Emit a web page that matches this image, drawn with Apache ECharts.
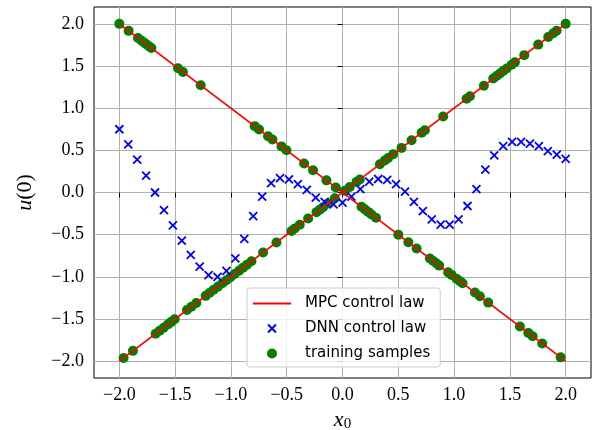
<!DOCTYPE html>
<html>
<head>
<meta charset="utf-8">
<script src="https://cdn.jsdelivr.net/npm/echarts@6/dist/echarts.min.js"></script>
<style>html,body{margin:0;padding:0;background:#fff}#c{width:600px;height:430px}</style>
</head>
<body>
<div id="c"></div>
<script>
// ---- data ----
const tickValues = [-2.0, -1.5, -1.0, -0.5, 0.0, 0.5, 1.0, 1.5, 2.0];

const mpcUp = [[-2.0, -2.0], [2.0, 2.0]];
const mpcDown = [[-2.0, 2.0], [2.0, -2.0]];

const dnnX = [-2.00, -1.92, -1.84, -1.76, -1.68, -1.60, -1.52, -1.44, -1.36, -1.28,
  -1.20, -1.12, -1.04, -0.96, -0.88, -0.80, -0.72, -0.64, -0.56, -0.48,
  -0.40, -0.32, -0.24, -0.16, -0.08, 0.00, 0.08, 0.16, 0.24, 0.32,
  0.40, 0.48, 0.56, 0.64, 0.72, 0.80, 0.88, 0.96, 1.04, 1.12,
  1.20, 1.28, 1.36, 1.44, 1.52, 1.60, 1.68, 1.76, 1.84, 1.92, 2.00];
const dnnY = [0.75, 0.57, 0.39, 0.20, 0.00, -0.21, -0.39, -0.57, -0.74, -0.88,
  -0.98, -1.00, -0.93, -0.78, -0.55, -0.28, -0.05, 0.11, 0.17, 0.155,
  0.10, 0.03, -0.06, -0.11, -0.14, -0.12, -0.05, 0.04, 0.13, 0.16,
  0.15, 0.10, 0.01, -0.11, -0.22, -0.32, -0.38, -0.38, -0.32, -0.16,
  0.04, 0.27, 0.44, 0.55, 0.60, 0.60, 0.58, 0.55, 0.49, 0.45, 0.40];

const trainDescX = [-2.0, -1.917, -1.833, -1.803, -1.779, -1.758, -1.734, -1.713, -1.474, -1.43,
  -1.271, -0.787, -0.748, -0.667, -0.628, -0.547, -0.502, -0.344, -0.264, -0.144,
  -0.06, 0.17, 0.2, 0.23, 0.26, 0.3, 0.5, 0.59, 0.664, 0.783,
  0.813, 0.843, 0.867, 0.947, 0.977, 1.022, 1.052, 1.076, 1.187, 1.231,
  1.306, 1.59, 1.665, 1.704, 1.79, 1.955];
const trainDescY = [2.0, 1.917, 1.833, 1.803, 1.779, 1.758, 1.734, 1.713, 1.474, 1.43,
  1.271, 0.787, 0.748, 0.667, 0.628, 0.547, 0.502, 0.344, 0.264, 0.144,
  0.06, -0.17, -0.2, -0.23, -0.26, -0.3, -0.5, -0.59, -0.664, -0.783,
  -0.813, -0.843, -0.867, -0.947, -0.977, -1.022, -1.052, -1.076, -1.187, -1.231,
  -1.306, -1.59, -1.665, -1.704, -1.79, -1.955];

const trainAscX = [-1.962, -1.878, -1.675, -1.639, -1.603, -1.564, -1.534, -1.504, -1.394, -1.354,
  -1.31, -1.226, -1.19, -1.154, -1.116, -1.076, -1.04, -1.004, -0.966, -0.927,
  -0.891, -0.856, -0.816, -0.712, -0.592, -0.457, -0.428, -0.383, -0.308, -0.233,
  -0.204, -0.174, -0.129, -0.069, 0.02, 0.065, 0.126, 0.155, 0.335, 0.379,
  0.409, 0.454, 0.529, 0.619, 0.709, 0.738, 0.902, 1.112, 1.142, 1.267,
  1.351, 1.381, 1.411, 1.44, 1.471, 1.516, 1.545, 1.629, 1.754, 1.844,
  1.889, 1.919, 2.0];
const trainAscY = [-1.962, -1.878, -1.675, -1.639, -1.603, -1.564, -1.534, -1.504, -1.394, -1.354,
  -1.31, -1.226, -1.19, -1.154, -1.116, -1.076, -1.04, -1.004, -0.966, -0.927,
  -0.891, -0.856, -0.816, -0.712, -0.592, -0.457, -0.428, -0.383, -0.308, -0.233,
  -0.204, -0.174, -0.129, -0.069, 0.02, 0.065, 0.126, 0.155, 0.335, 0.379,
  0.409, 0.454, 0.529, 0.619, 0.709, 0.738, 0.902, 1.112, 1.142, 1.267,
  1.351, 1.381, 1.411, 1.44, 1.471, 1.516, 1.545, 1.629, 1.754, 1.844,
  1.889, 1.919, 2.0];

// ---- build ----
const zip = (xs, ys) => xs.map((x, i) => [x, ys[i]]);
const trainData = zip(trainDescX, trainDescY).concat(zip(trainAscX, trainAscY));
const dnnData = zip(dnnX, dnnY);

const fmt = v => v.toFixed(1).replace('-', '\u2212');
const tickFont = 'Liberation Serif';

const chart = echarts.init(document.getElementById('c'), null, {renderer: 'canvas'});
chart.setOption({
  animation: false,
  backgroundColor: '#fff',
  grid: {left: 94, right: 9, top: 7, bottom: 52, containLabel: false, outerBoundsMode: 'none',
         show: true, borderColor: '#000', borderWidth: 1, backgroundColor: 'transparent'},
  xAxis: {
    type: 'value', min: -2.227, max: 2.227, splitNumber: 9,
    axisLine: {show: false},
    axisTick: {show: true, inside: false, length: 5, lineStyle: {color: '#000', width: 1}, customValues: tickValues},
    axisLabel: {customValues: tickValues, formatter: fmt, margin: 8, color: '#000', fontFamily: tickFont, fontSize: 18},
    splitLine: {show: true, lineStyle: {color: '#b0b0b0', width: 1}},
    name: '{i|x}{s|0}', nameLocation: 'middle', nameGap: 24,
    nameTextStyle: {rich: {
      i: {fontFamily: tickFont, fontStyle: 'italic', fontSize: 22, color: '#000'},
      s: {fontFamily: tickFont, fontSize: 15, color: '#000', verticalAlign: 'bottom', padding: [9, 0, 0, 0]}
    }}
  },
  yAxis: {
    type: 'value', min: -2.2, max: 2.2, splitNumber: 9,
    axisLine: {show: false},
    axisTick: {show: true, inside: false, length: 5, lineStyle: {color: '#000', width: 1}, customValues: tickValues},
    axisLabel: {customValues: tickValues, formatter: fmt, margin: 10, color: '#000', fontFamily: tickFont, fontSize: 18},
    splitLine: {show: true, lineStyle: {color: '#b0b0b0', width: 1}},
    name: '{i|u}{n|(0)}', nameLocation: 'middle', nameGap: 58, nameRotate: 90,
    nameTextStyle: {rich: {
      i: {fontFamily: tickFont, fontStyle: 'italic', fontSize: 22, color: '#000'},
      n: {fontFamily: tickFont, fontSize: 22, color: '#000'}
    }}
  },
  legend: {
    orient: 'vertical', left: 247, top: 288,
    padding: [8, 10, 6, 6], itemGap: 10, itemWidth: 38, itemHeight: 10,
    backgroundColor: 'rgba(255,255,255,0.8)', borderColor: '#cccccc', borderWidth: 1, borderRadius: 3,
    textStyle: {fontFamily: 'DejaVu Sans', fontSize: 15, color: '#000', padding: [0, 0, 0, 9]},
    data: [
      {name: 'MPC control law', icon: 'path://M0,0H38V1.8H0Z', itemStyle: {color: '#ff0000'}},
      {name: 'DNN control law', icon: 'path://M0,0L8,8M0,8L8,0M-1,-1M9,9'},
      {name: 'training samples'}
    ]
  },
  series: [
    {name: 'training samples', type: 'scatter', data: trainData, symbol: 'circle', symbolSize: 10,
     itemStyle: {color: '#008000', opacity: 1}, z: 2},
    {name: 'DNN control law', type: 'scatter', data: dnnData,
     symbol: 'path://M0,0L10,10M0,10L10,0', symbolSize: 8,
     itemStyle: {color: 'rgba(0,0,0,0)', borderColor: '#0000ff', borderWidth: 1.8, opacity: 1}, z: 3},
    {name: 'MPC control law', type: 'line', data: mpcUp, symbol: 'none',
     lineStyle: {color: '#ff0000', width: 1.8}, itemStyle: {color: '#ff0000'}, z: 4},
    {name: 'MPC control law', type: 'line', data: mpcDown, symbol: 'none',
     lineStyle: {color: '#ff0000', width: 1.8}, itemStyle: {color: '#ff0000'}, z: 4}
  ]
});
</script>
</body>
</html>
